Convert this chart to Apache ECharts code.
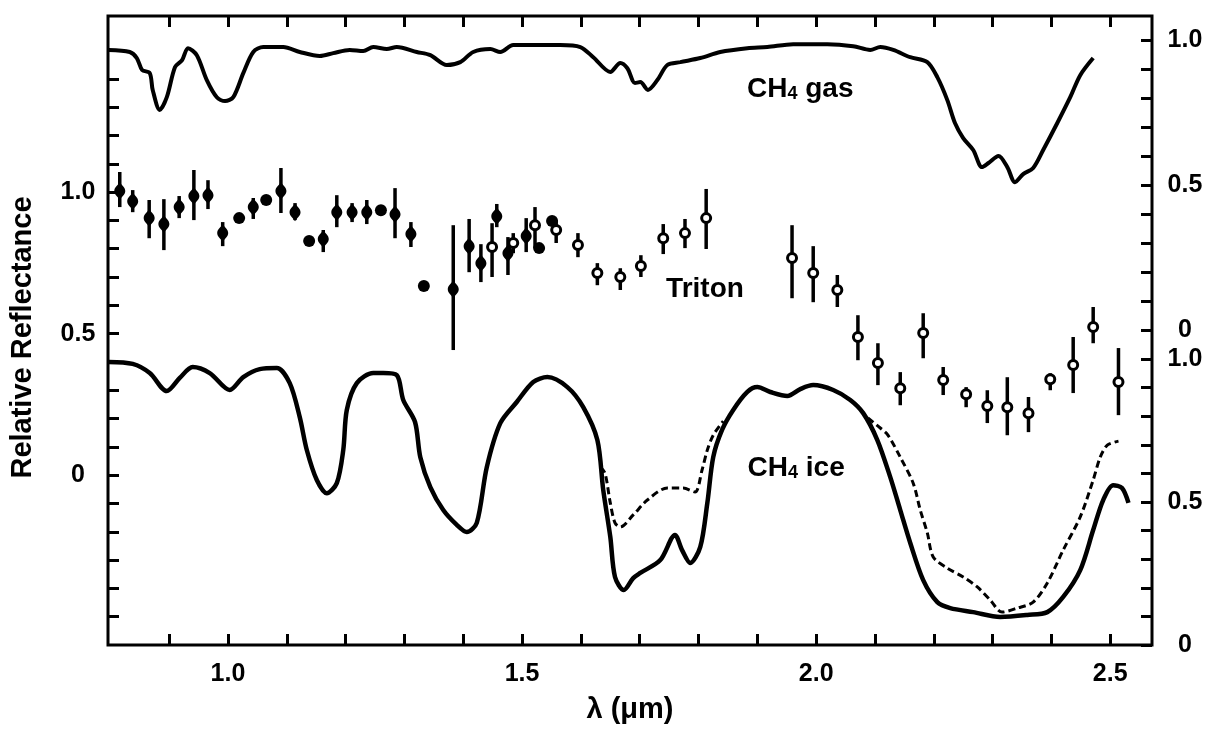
<!DOCTYPE html>
<html>
<head>
<meta charset="utf-8">
<script src="https://cdn.jsdelivr.net/npm/echarts@6/dist/echarts.min.js"></script>
<style>
html,body{margin:0;padding:0;background:#fff;}
#chart{width:1214px;height:732px;}
</style>
</head>
<body>
<div id="chart"></div>
<script>
// ---- Data (wavelength in µm) ----
// CH4 gas spectrum (upper right scale)
const gasLam = [0.797,0.833,0.845,0.854,0.867,0.872,0.884,0.896,0.910,0.922,0.932,0.947,0.964,0.981,0.995,1.009,1.026,1.043,1.060,1.094,1.122,1.156,1.179,1.207,1.230,1.247,1.270,1.287,1.321,1.344,1.372,1.395,1.417,1.446,1.463,1.485,1.565,1.599,1.621,1.650,1.667,1.679,1.692,1.701,1.714,1.730,1.747,1.769,1.803,1.837,1.883,1.917,1.961,2.019,2.063,2.092,2.109,2.131,2.160,2.189,2.206,2.223,2.236,2.250,2.267,2.282,2.293,2.310,2.325,2.338,2.352,2.369,2.386,2.410,2.432,2.449,2.471];
const gasVal = [0.966,0.959,0.938,0.897,0.886,0.828,0.759,0.803,0.907,0.931,0.972,0.948,0.862,0.803,0.790,0.803,0.886,0.959,0.976,0.976,0.959,0.945,0.955,0.966,0.962,0.976,0.969,0.976,0.959,0.948,0.914,0.924,0.959,0.969,0.959,0.983,0.983,0.976,0.941,0.890,0.921,0.903,0.852,0.855,0.828,0.862,0.914,0.924,0.938,0.959,0.972,0.976,0.986,0.986,0.979,0.966,0.976,0.966,0.941,0.924,0.872,0.793,0.714,0.662,0.621,0.562,0.576,0.600,0.562,0.510,0.538,0.559,0.621,0.714,0.803,0.879,0.938];

// CH4 ice spectrum, solid (lower right scale)
const iceLam = [0.797,0.838,0.867,0.896,0.918,0.940,0.969,1.003,1.026,1.054,1.083,1.105,1.122,1.134,1.151,1.168,1.185,1.196,1.202,1.219,1.247,1.264,1.287,1.298,1.318,1.327,1.344,1.366,1.389,1.406,1.423,1.440,1.463,1.491,1.519,1.543,1.577,1.604,1.628,1.638,1.650,1.658,1.673,1.689,1.701,1.735,1.760,1.772,1.786,1.803,1.815,1.825,1.840,1.859,1.883,1.900,1.922,1.951,1.973,1.995,2.029,2.058,2.080,2.104,2.126,2.143,2.160,2.182,2.206,2.228,2.267,2.313,2.359,2.393,2.420,2.449,2.471,2.488,2.505,2.520,2.531];
const iceVal = [0.990,0.983,0.951,0.888,0.934,0.972,0.951,0.892,0.937,0.965,0.969,0.916,0.797,0.682,0.577,0.531,0.566,0.682,0.822,0.916,0.951,0.951,0.944,0.857,0.780,0.657,0.552,0.472,0.420,0.395,0.427,0.622,0.776,0.850,0.920,0.937,0.902,0.832,0.717,0.542,0.378,0.238,0.192,0.234,0.252,0.297,0.385,0.332,0.287,0.343,0.497,0.657,0.752,0.822,0.885,0.902,0.885,0.871,0.895,0.909,0.892,0.857,0.811,0.717,0.587,0.472,0.357,0.227,0.150,0.129,0.115,0.098,0.105,0.115,0.168,0.262,0.402,0.507,0.559,0.549,0.497];

// CH4 ice spectrum, dashed (two segments)
const dashLamA = [1.633,1.641,1.650,1.658,1.667,1.689,1.713,1.747,1.774,1.794,1.806,1.815,1.825,1.842];
const dashValA = [0.622,0.601,0.497,0.427,0.413,0.455,0.507,0.549,0.549,0.535,0.612,0.682,0.734,0.783];
const dashLamB = [2.088,2.109,2.122,2.143,2.165,2.177,2.189,2.199,2.223,2.250,2.274,2.296,2.316,2.342,2.369,2.393,2.420,2.449,2.471,2.483,2.495,2.514];
const dashValB = [0.794,0.759,0.734,0.657,0.566,0.472,0.392,0.308,0.269,0.238,0.203,0.157,0.115,0.129,0.150,0.217,0.332,0.448,0.577,0.657,0.699,0.713];

// Triton, filled points with error bars (left scale)
const fLam = [0.816,0.838,0.866,0.891,0.917,0.942,0.966,0.991,1.043,1.090,1.114,1.162,1.185,1.211,1.236,1.284,1.311,1.383,1.410,1.430,1.457,1.476,1.507];
const fVal = [1.004,0.968,0.908,0.887,0.947,0.986,0.989,0.855,0.947,1.004,0.929,0.834,0.929,0.929,0.929,0.922,0.852,0.657,0.809,0.749,0.915,0.784,0.845];
const fLo  = [0.947,0.929,0.837,0.795,0.908,0.901,0.940,0.809,0.905,0.926,0.901,0.788,0.876,0.894,0.887,0.837,0.806,0.442,0.717,0.682,0.876,0.707,0.788];
const fHi  = [1.071,1.007,0.972,0.975,0.986,1.078,1.042,0.894,0.979,1.085,0.961,0.866,0.989,0.961,0.972,1.014,0.894,0.883,0.905,0.816,0.958,0.841,0.908];

// Triton, filled points without error bars
const dLam = [1.019,1.065,1.138,1.260,1.333,1.529,1.551];
const dVal = [0.908,0.972,0.827,0.936,0.668,0.802,0.898];

// Triton, open points with error bars
const oLam = [1.449,1.485,1.522,1.558,1.595,1.628,1.667,1.702,1.740,1.777,1.813,1.959,1.995,2.036,2.071,2.105,2.143,2.182,2.216,2.255,2.291,2.325,2.361,2.398,2.437,2.471,2.514];
const oVal = [0.806,0.820,0.883,0.866,0.813,0.714,0.700,0.739,0.837,0.855,0.908,0.767,0.714,0.654,0.488,0.396,0.307,0.502,0.336,0.286,0.244,0.240,0.219,0.339,0.389,0.523,0.329];
const oLo  = [0.700,0.784,0.802,0.820,0.770,0.671,0.654,0.700,0.781,0.802,0.799,0.625,0.611,0.594,0.406,0.318,0.247,0.413,0.283,0.240,0.184,0.141,0.152,0.300,0.290,0.466,0.212];
const oHi  = [0.890,0.855,0.947,0.901,0.855,0.749,0.731,0.777,0.887,0.905,1.011,0.883,0.809,0.707,0.565,0.466,0.364,0.572,0.382,0.311,0.300,0.346,0.276,0.360,0.488,0.594,0.449];

// Ticks and labels
const xTickValues = [0.9,1.0,1.1,1.2,1.3,1.4,1.5,1.6,1.7,1.8,1.9,2.0,2.1,2.2,2.3,2.4,2.5];
const xLabelValues = [1.0,1.5,2.0,2.5];
const leftTickValues = [-0.5,-0.4,-0.3,-0.2,-0.1,0,0.1,0.2,0.3,0.4,0.5,0.6,0.7,0.8,0.9,1.0,1.1,1.2,1.3,1.4,1.5];
const leftLabelValues = [0,0.5,1.0];
const rightTickValues = [0,0.1,0.2,0.3,0.4,0.5,0.6,0.7,0.8,0.9,1.0];
const rightLabelValues = [0,0.5,1.0];

// Annotations [lambda, value]
const gasNote = [1.973, 0.834];
const tritonNote = [1.811, 0.661];
const iceNote = [1.966, 0.622];

// ---- Chart ----
const FONT = "'Liberation Sans', Arial, Helvetica, sans-serif";
const zip = (a, b) => a.map((v, i) => [v, b[i]]);
const zip3 = (a, b, c) => a.map((v, i) => [v, b[i], c[i]]);
const fmt = v => (Math.abs(v) < 1e-9 ? '0' : v.toFixed(1));

const tickStyle = {color:'#000', width:3};
const lblStyle = {color:'#000', fontSize:25, fontWeight:'bold', fontFamily:FONT};

function errBar(params, api) {
  const x = api.value(0), lo = api.value(1), hi = api.value(2);
  const p1 = api.coord([x, lo]), p2 = api.coord([x, hi]);
  return {type:'line', shape:{x1:p1[0], y1:p1[1], x2:p2[0], y2:p2[1]}, style:{stroke:'#000', lineWidth:3.5}};
}

const noteLabel = (txt) => ({
  show:true, position:'inside', formatter: txt, color:'#000', textBorderWidth:0, opacity:1,
  rich: {
    b:{fontSize:28, fontWeight:'bold', fontFamily:FONT, color:'#000', textBorderWidth:0, verticalAlign:'bottom', lineHeight:30},
    s:{fontSize:18, fontWeight:'bold', fontFamily:FONT, color:'#000', textBorderWidth:0, verticalAlign:'bottom', lineHeight:22}
  }
});

const xAxisBase = {
  type:'value', min:0.796, max:2.571,
  axisLine:{show:false, onZero:false}, splitLine:{show:false},
  axisTick:{show:true, inside:true, length:11, lineStyle:tickStyle, customValues:xTickValues}
};

const option = {
  animation:false,
  backgroundColor:'#fff',
  grid:{left:108, right:62, top:16, bottom:87, show:true, borderColor:'#000', borderWidth:3, backgroundColor:'transparent'},
  xAxis:[
    Object.assign({}, xAxisBase, {position:'bottom',
     axisLabel:Object.assign({customValues:xLabelValues, formatter:fmt, margin:17}, lblStyle),
     name:'λ (μm)', nameLocation:'middle', nameGap:50,
     nameTextStyle:{color:'#000', fontSize:29, fontWeight:'bold', fontFamily:FONT}}),
    Object.assign({}, xAxisBase, {position:'top', axisLabel:{show:false}})
  ],
  yAxis:[
    {type:'value', position:'left', min:-0.6, max:1.622,
     axisLine:{show:false, onZero:false}, splitLine:{show:false},
     axisTick:{show:true, inside:true, length:11, lineStyle:tickStyle, customValues:leftTickValues},
     axisLabel:Object.assign({customValues:leftLabelValues, formatter:fmt, margin:30, align:'center'}, lblStyle),
     name:'Relative Reflectance', nameLocation:'middle', nameGap:71, nameRotate:90,
     nameTextStyle:{color:'#000', fontSize:29, fontWeight:'bold', fontFamily:FONT, padding:[0,0,0,-14]}},
    {type:'value', position:'right', min:-1.086, max:1.083,
     axisLine:{show:false, onZero:false}, splitLine:{show:false},
     axisTick:{show:true, inside:true, length:11, lineStyle:tickStyle, customValues:rightTickValues},
     axisLabel:Object.assign({customValues:rightLabelValues, formatter:fmt, margin:33, align:'center'}, lblStyle)},
    {type:'value', position:'right', min:0, max:2.2,
     axisLine:{show:false, onZero:false}, splitLine:{show:false},
     axisTick:{show:true, inside:true, length:11, lineStyle:tickStyle, customValues:rightTickValues},
     axisLabel:Object.assign({customValues:rightLabelValues, formatter:fmt, margin:33, align:'center'}, lblStyle)}
  ],
  series:[
    {name:'CH4 gas', type:'line', xAxisIndex:0, yAxisIndex:1, data:zip(gasLam, gasVal),
     showSymbol:false, smooth:0.3, lineStyle:{color:'#000', width:4}},
    {name:'CH4 ice', type:'line', xAxisIndex:0, yAxisIndex:2, data:zip(iceLam, iceVal),
     showSymbol:false, smooth:0.3, lineStyle:{color:'#000', width:4.5}},
    {name:'CH4 ice dashed A', type:'line', xAxisIndex:0, yAxisIndex:2, data:zip(dashLamA, dashValA),
     showSymbol:false, smooth:0.3, lineStyle:{color:'#000', width:3, type:[7,4]}},
    {name:'CH4 ice dashed B', type:'line', xAxisIndex:0, yAxisIndex:2, data:zip(dashLamB, dashValB),
     showSymbol:false, smooth:0.3, lineStyle:{color:'#000', width:3, type:[7,4]}},
    {name:'Triton bars filled', type:'custom', xAxisIndex:0, yAxisIndex:0, renderItem:errBar,
     data:zip3(fLam, fLo, fHi), encode:{x:0, y:[1,2]}, z:3},
    {name:'Triton bars open', type:'custom', xAxisIndex:0, yAxisIndex:0, renderItem:errBar,
     data:zip3(oLam, oLo, oHi), encode:{x:0, y:[1,2]}, z:3},
    {name:'Triton filled', type:'scatter', xAxisIndex:0, yAxisIndex:0, data:zip(fLam, fVal),
     symbol:'path://M0,-10 C2,-6 5,-4 5,0 C5,4 2,6 0,10 C-2,6 -5,4 -5,0 C-5,-4 -2,-6 0,-10 Z',
     symbolSize:[11,18], itemStyle:{color:'#000', opacity:1}, z:4},
    {name:'Triton dots', type:'scatter', xAxisIndex:0, yAxisIndex:0, data:zip(dLam, dVal),
     symbol:'circle', symbolSize:12, itemStyle:{color:'#000', opacity:1}, z:4},
    {name:'Triton open', type:'scatter', xAxisIndex:0, yAxisIndex:0, data:zip(oLam, oVal),
     symbol:'circle', symbolSize:9, itemStyle:{color:'#fff', borderColor:'#000', borderWidth:3, opacity:1}, z:5},
    {name:'gas note', type:'scatter', xAxisIndex:0, yAxisIndex:1, data:[gasNote],
     symbolSize:0, itemStyle:{color:'#000'}, label:noteLabel('{b|CH}{s|4}{b| gas}'), z:6},
    {name:'triton note', type:'scatter', xAxisIndex:0, yAxisIndex:0, data:[tritonNote],
     symbolSize:0, itemStyle:{color:'#000'}, label:noteLabel('{b|Triton}'), z:6},
    {name:'ice note', type:'scatter', xAxisIndex:0, yAxisIndex:2, data:[iceNote],
     symbolSize:0, itemStyle:{color:'#000'}, label:noteLabel('{b|CH}{s|4}{b| ice}'), z:6}
  ]
};

const chart = echarts.init(document.getElementById('chart'), null, {renderer:'canvas'});
chart.setOption(option);
</script>
</body>
</html>
